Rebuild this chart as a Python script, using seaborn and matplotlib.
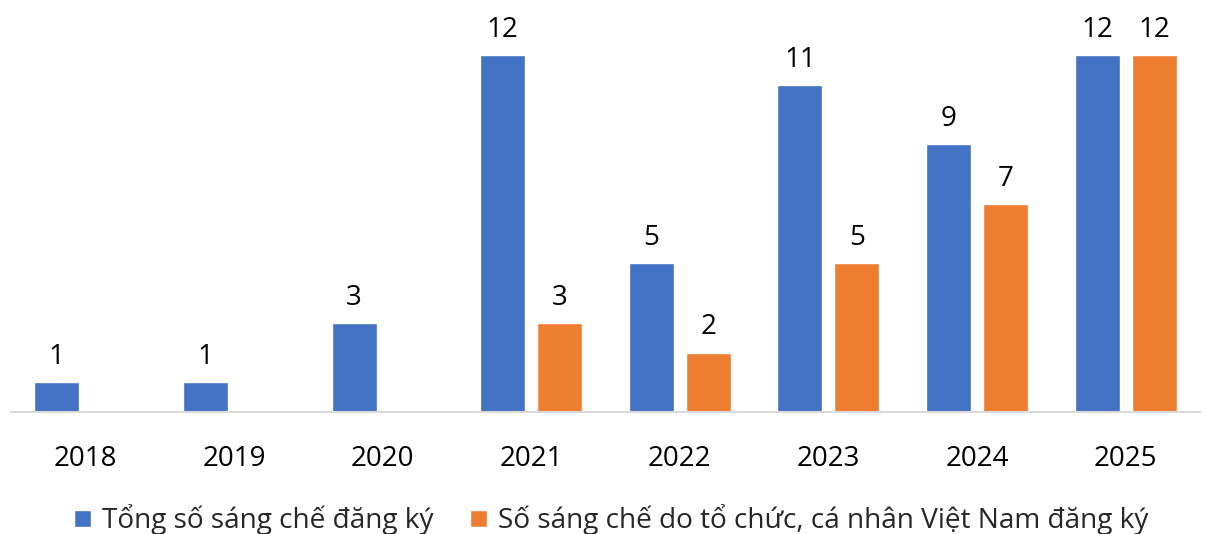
import numpy as np
import pandas as pd
import matplotlib
matplotlib.use("Agg")
import matplotlib.pyplot as plt
import seaborn as sns

# số liệu
years = ["2018", "2019", "2020", "2021", "2022", "2023", "2024", "2025"]
tong_so = [1, 1, 3, 12, 5, 11, 9, 12]
viet_nam = [np.nan, np.nan, np.nan, 3, 2, 5, 7, 12]
series_names = ["Tổng số sáng chế đăng ký",
                "Số sáng chế do tổ chức, cá nhân Việt Nam đăng ký"]
colors = ["#4472C4", "#ED7D31"]

df = pd.DataFrame({
    "year": years * 2,
    "value": tong_so + viet_nam,
    "series": [series_names[0]] * len(years) + [series_names[1]] * len(years),
})

sns.set_style("white")
plt.rcParams["font.family"] = ["Open Sans", "DejaVu Sans"]

fig = plt.figure(figsize=(12.06, 5.34), dpi=100)
ax = fig.add_axes([11 / 1206, 122 / 534, 1189 / 1206, 412 / 534])

sns.barplot(data=df, x="year", y="value", hue="series", palette=colors,
            width=0.766, gap=0.209, saturation=1, ax=ax, errorbar=None)

for cont in ax.containers:
    labels = ["" if np.isnan(v) else f"{v:.0f}" for v in cont.datavalues]
    ax.bar_label(cont, labels=labels, padding=8, fontsize=20, color="#000000")

ax.set_ylim(0, 13.85)
ax.set_xlim(-0.5, len(years) - 0.5)
ax.set_xlabel("")
ax.set_ylabel("")
ax.set_yticks([])
for s in ["top", "right", "left"]:
    ax.spines[s].set_visible(False)
ax.spines["bottom"].set_color("#D9D9D9")
ax.spines["bottom"].set_linewidth(1.5)

ax.tick_params(axis="x", which="major", length=0, labelsize=20, pad=24, colors="#000000")
ax.set_xticks(np.arange(-0.5, len(years)), minor=True)
ax.tick_params(axis="x", which="minor", length=8, width=1.5, color="#D9D9D9")

ax.legend(loc="center", bbox_to_anchor=(0.505, -0.262), ncol=2, frameon=False,
          fontsize=20.2, handlelength=0.6, handleheight=0.6, handletextpad=0.4,
          columnspacing=1.3)

fig.savefig("out.png", dpi=100)
